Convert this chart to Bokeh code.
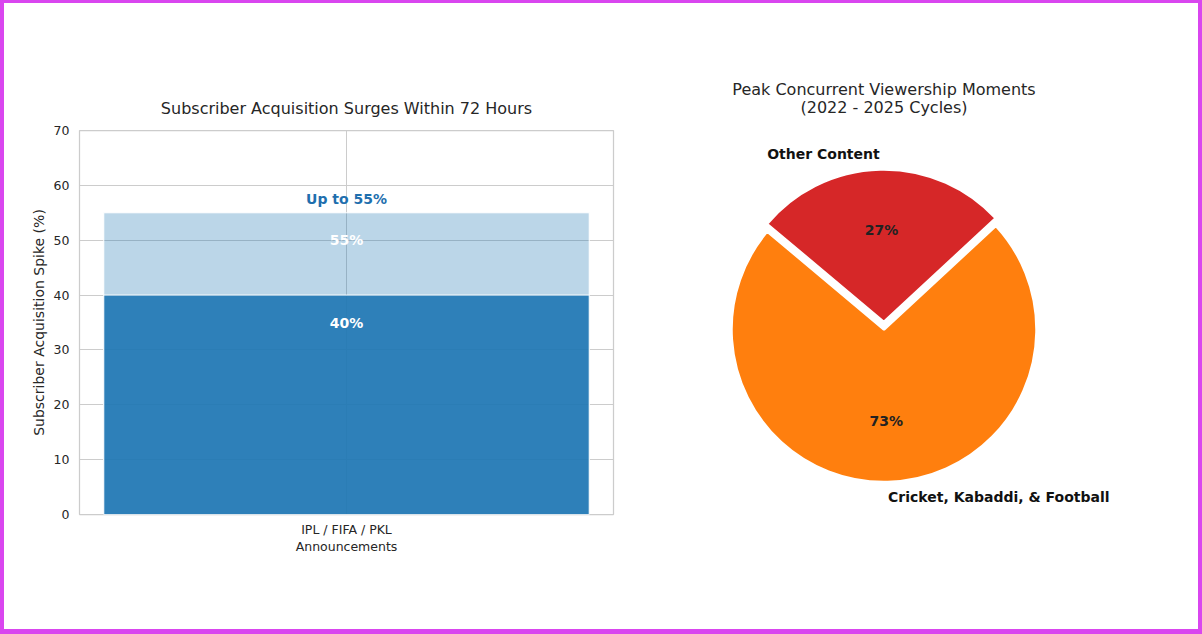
import math

from bokeh.embed import file_html
from bokeh.layouts import row
from bokeh.models import ColumnDataSource, FixedTicker, Label, Range1d
from bokeh.plotting import figure
from bokeh.resources import INLINE
from bokeh.core.properties import value

# ---- data -------------------------------------------------------------
bar_category = "IPL / FIFA / PKL\nAnnouncements"
bar_low = 40      # typical spike (%)
bar_high = 55     # upper bound of spike (%)
bar_ticks = [0, 10, 20, 30, 40, 50, 60, 70]

pie_title = ["Peak Concurrent Viewership Moments", "(2022 - 2025 Cycles)"]
pie_labels = ["Cricket, Kabaddi, & Football", "Other Content"]
pie_shares = [73, 27]
pie_colors = ["#ff7f0e", "#d62728"]
pie_explode = [0.0, 0.05]
pie_start_angle = 140

FONT = "DejaVu Sans"
TEXT = "#262626"
GRID = "#cccccc"

# ---- left: overlaid bars ----------------------------------------------
bar = figure(
    width=656, height=626,
    x_range=Range1d(-0.44, 0.44), y_range=Range1d(0, 70),
    output_backend="svg", toolbar_location=None,
    min_border_left=75, min_border_right=47,
    min_border_top=127, min_border_bottom=115,
)
bar.frame_align = False
bar.background_fill_color = "white"
bar.border_fill_color = "white"
bar.outline_line_color = GRID
bar.outline_line_width = 1.25

bar.title.text = "Subscriber Acquisition Surges Within 72 Hours"
bar.title.align = "center"
bar.title.text_font = FONT
bar.title.text_font_size = "16px"
bar.title.text_font_style = "normal"
bar.title.text_color = TEXT
bar.title.standoff = 26

bar.xaxis.ticker = FixedTicker(ticks=[0])
bar.xaxis.major_label_overrides = {0: bar_category}
bar.yaxis.ticker = FixedTicker(ticks=bar_ticks)
bar.xgrid.ticker = FixedTicker(ticks=[0])
bar.ygrid.ticker = FixedTicker(ticks=bar_ticks)
for g in (bar.xgrid, bar.ygrid):
    g.grid_line_color = GRID
    g.grid_line_width = 1

for ax in (bar.xaxis, bar.yaxis):
    ax.axis_line_color = None
    ax.major_tick_line_color = None
    ax.minor_tick_line_color = None
    ax.major_tick_out = 0
    ax.major_label_text_font = FONT
    ax.major_label_text_font_size = "12.5px"
    ax.major_label_text_color = TEXT
bar.yaxis.major_label_standoff = 10
bar.xaxis.major_label_standoff = 7
bar.xaxis.major_label_text_line_height = 1.15
bar.yaxis.axis_label = "Subscriber Acquisition Spike (%)"
bar.yaxis.axis_label_text_font = FONT
bar.yaxis.axis_label_text_font_size = "14px"
bar.yaxis.axis_label_text_font_style = "normal"
bar.yaxis.axis_label_text_color = TEXT
bar.yaxis.axis_label_standoff = 4

bar.vbar(x=[0], top=[bar_high], width=0.8, bottom=0,
         fill_color="#1f77b4", fill_alpha=0.3,
         line_color="white", line_width=1)
bar.vbar(x=[0], top=[bar_low], width=0.8, bottom=0,
         fill_color="#1f77b4", fill_alpha=0.9,
         line_color="white", line_width=1)

val_src = ColumnDataSource(dict(
    x=[0, 0], y=[bar_high - 5, bar_low - 5],
    t=[f"{bar_high}%", f"{bar_low}%"],
))
bar.text(x="x", y="y", text="t", source=val_src,
         text_font=value(FONT), text_font_style="bold",
         text_font_size="14px", text_color="white",
         text_align="center", text_baseline="middle")
bar.add_layout(Label(x=0, y=bar_high + 2.5, text=f"Up to {bar_high}%",
                     text_font=FONT, text_font_style="bold",
                     text_font_size="14px", text_color="#1f6fae",
                     text_align="center", text_baseline="middle"))

# ---- right: exploded pie (frame covers the whole canvas) --------------
R_PX = 152.5                 # pixels per unit radius
W, H = 538, 626
CX_PX, CY_PX = 223.5, 326.0  # pie centre from the canvas left / top
pie = figure(
    width=W, height=H,
    x_range=Range1d(-CX_PX / R_PX, (W - CX_PX) / R_PX),
    y_range=Range1d(-(H - CY_PX) / R_PX, CY_PX / R_PX),
    x_axis_type=None, y_axis_type=None,
    output_backend="svg", toolbar_location=None,
    min_border=0,
)
pie.frame_align = False
pie.outline_line_color = None
pie.background_fill_color = "white"
pie.border_fill_color = "white"
pie.grid.visible = False

total = sum(pie_shares)
starts, ends, cx, cy = [], [], [], []
lx, ly, la, px, py, pt = [], [], [], [], [], []
ang = pie_start_angle
for share, ex, lab in zip(pie_shares, pie_explode, pie_labels):
    span = 360.0 * share / total
    mid = math.radians(ang + span / 2)
    ox, oy = ex * math.cos(mid), ex * math.sin(mid)
    starts.append(math.radians(ang))
    ends.append(math.radians(ang + span))
    cx.append(ox)
    cy.append(oy)
    lx.append(ox + 1.1 * math.cos(mid))
    ly.append(oy + 1.1 * math.sin(mid))
    la.append("left" if math.cos(mid) >= 0 else "right")
    px.append(ox + 0.6 * math.cos(mid))
    py.append(oy + 0.6 * math.sin(mid))
    pt.append(f"{round(100 * share / total)}%")
    ang += span

wedge_src = ColumnDataSource(dict(x=cx, y=cy, s=starts, e=ends, c=pie_colors))
pie.wedge(x="x", y="y", radius=1, start_angle="s", end_angle="e",
          fill_color="c", line_color="white",
          line_width=2.5, source=wedge_src)

lab_src = ColumnDataSource(dict(x=lx, y=ly, t=pie_labels, a=la))
pie.text(x="x", y="y", text="t", text_align="a", source=lab_src,
         text_font=value(FONT), text_font_style="bold",
         text_font_size="14px", text_color="#111111",
         text_baseline="middle")
pct_src = ColumnDataSource(dict(x=px, y=py, t=pt))
pie.text(x="x", y="y", text="t", source=pct_src,
         text_font=value(FONT), text_font_style="bold",
         text_font_size="14px", text_color="#222222",
         text_align="center", text_baseline="middle")

# two-line title, each line centred over the pie
title_src = ColumnDataSource(dict(
    x=[0, 0],
    y=[(CY_PX - 86) / R_PX, (CY_PX - 104) / R_PX],
    t=pie_title,
))
pie.text(x="x", y="y", text="t", source=title_src,
         text_font=value(FONT), text_font_size="16px", text_color=TEXT,
         text_align="center", text_baseline="middle")

layout = row(bar, pie, styles={
    "background-color": "white",
    "border-style": "solid",
    "border-color": "#d946ef",
    "border-width": "3px 4px 5px 4px",
})

open("out.html", "w").write(file_html(layout, INLINE))
